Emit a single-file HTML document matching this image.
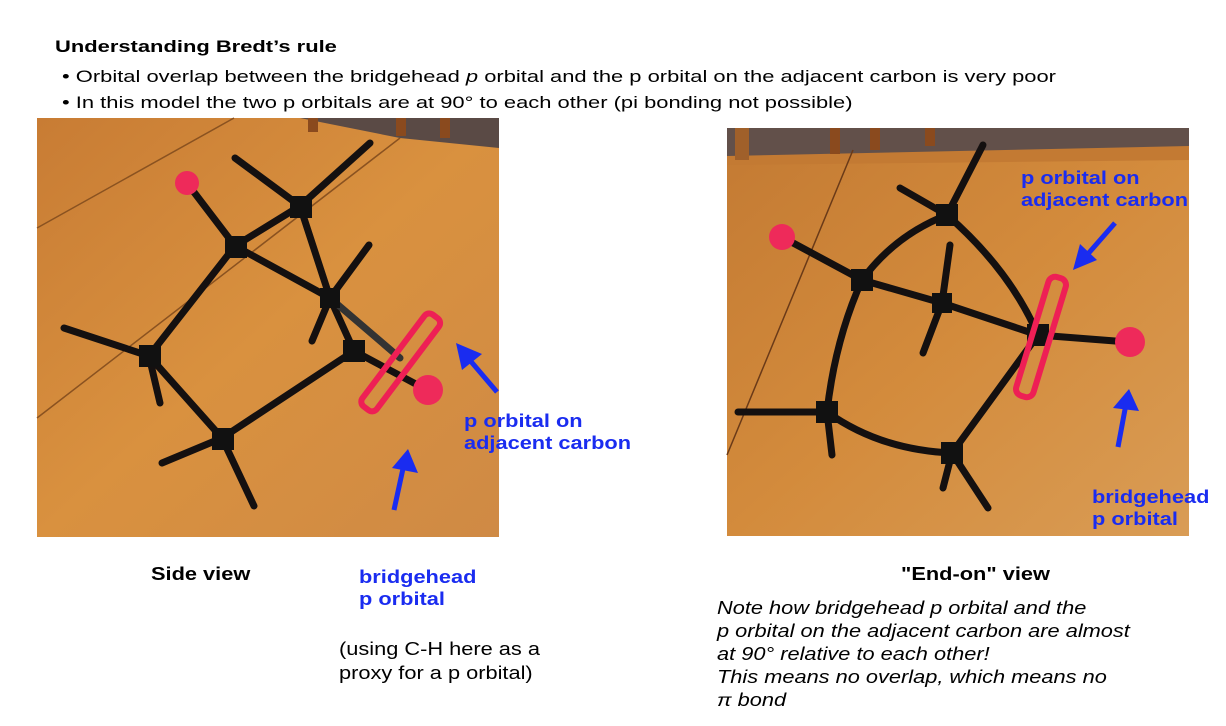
<!DOCTYPE html>
<html><head><meta charset="utf-8"><style>
body{margin:0;width:1226px;height:726px;background:#fff;font-family:"Liberation Sans",Arial,sans-serif;position:relative;overflow:hidden}
.t{position:absolute;white-space:nowrap;color:#000;transform-origin:0 0;transform:scaleX(1.21)}
.h{transform:scaleX(1.29)}
.b{font-weight:bold}
.blue{color:#1a2cf0;font-weight:bold;font-size:18px;line-height:22px}
svg{position:absolute;left:0;top:0}
</style></head><body>
<svg width="1226" height="726">
<defs>
<linearGradient id="w1" x1="0" y1="0" x2="1" y2="1"><stop offset="0" stop-color="#c87c34"/><stop offset="0.5" stop-color="#d9913f"/><stop offset="1" stop-color="#cf8a45"/></linearGradient>
<linearGradient id="w2" x1="0" y1="0" x2="1" y2="1"><stop offset="0" stop-color="#c37a33"/><stop offset="0.5" stop-color="#d38b3c"/><stop offset="1" stop-color="#d99c55"/></linearGradient>
</defs>
<rect x="37" y="118" width="462" height="419" fill="url(#w1)"/>
<polygon points="300,118 499,118 499,148 400,138" fill="#5a4a45"/>
<rect x="308" y="118" width="10" height="14" fill="#8a4a1e"/><rect x="396" y="118" width="10" height="18" fill="#8a4a1e"/><rect x="440" y="118" width="10" height="20" fill="#8a4a1e"/>
<line x1="37" y1="228" x2="234" y2="118" stroke="#8a5220" stroke-width="1.5"/>
<line x1="37" y1="418" x2="400" y2="138" stroke="#8a5220" stroke-width="1.5"/>
<g stroke="#141010" stroke-width="7" stroke-linecap="round">
<line x1="300" y1="206" x2="235" y2="246"/><line x1="300" y1="206" x2="330" y2="298"/><line x1="235" y1="246" x2="330" y2="298"/>
<line x1="235" y1="246" x2="149" y2="356"/><line x1="149" y1="356" x2="222" y2="438"/><line x1="222" y1="438" x2="354" y2="351"/>
<line x1="354" y1="351" x2="330" y2="298"/><line x1="235" y1="246" x2="187" y2="183"/>
<line x1="300" y1="206" x2="370" y2="143"/><line x1="300" y1="206" x2="235" y2="158"/>
<line x1="330" y1="298" x2="369" y2="245"/><line x1="330" y1="298" x2="312" y2="341"/>
<line x1="149" y1="356" x2="64" y2="328"/><line x1="149" y1="356" x2="160" y2="403"/>
<line x1="222" y1="438" x2="162" y2="463"/><line x1="222" y1="438" x2="254" y2="506"/>
<line x1="354" y1="351" x2="427" y2="390"/><line x1="330" y1="298" x2="400" y2="358" stroke="#333"/>
</g>
<g fill="#111"><rect x="290" y="196" width="22" height="22"/><rect x="225" y="236" width="22" height="22"/><rect x="320" y="288" width="20" height="20"/><rect x="343" y="340" width="22" height="22"/><rect x="139" y="345" width="22" height="22"/><rect x="212" y="428" width="22" height="22"/></g>
<rect x="392" y="305" width="18" height="115" rx="6" fill="none" stroke="#ee1f55" stroke-width="6" transform="rotate(37 401 362)"/>
<circle cx="187" cy="183" r="12" fill="#ee2a5a"/><circle cx="428" cy="390" r="15" fill="#ee2a5a"/>
<rect x="727" y="128" width="462" height="408" fill="url(#w2)"/>
<rect x="727" y="128" width="462" height="28" fill="#62504a"/>
<polygon points="727,156 1189,146 1189,160 727,165" fill="#c37a33"/>
<rect x="735" y="128" width="14" height="32" fill="#a0602a"/><rect x="830" y="128" width="10" height="26" fill="#8a4a1e"/><rect x="870" y="128" width="10" height="22" fill="#8a4a1e"/><rect x="925" y="128" width="10" height="18" fill="#8a4a1e"/>
<line x1="853" y1="150" x2="727" y2="455" stroke="#6a3a18" stroke-width="1.5"/>
<g stroke="#141010" stroke-width="7" stroke-linecap="round">
<path d="M947 215 Q895 235 862 280" fill="none"/><path d="M947 215 Q1010 270 1038 335" fill="none"/>
<line x1="862" y1="280" x2="942" y2="303"/><line x1="942" y1="303" x2="1038" y2="335"/>
<path d="M862 280 Q835 340 827 412" fill="none"/><path d="M827 412 Q880 450 952 453" fill="none"/><line x1="952" y1="453" x2="1038" y2="335"/>
<line x1="862" y1="280" x2="782" y2="237"/><line x1="1038" y1="335" x2="1128" y2="342"/>
<line x1="947" y1="215" x2="983" y2="145"/><line x1="947" y1="215" x2="900" y2="188"/>
<line x1="942" y1="303" x2="950" y2="245"/><line x1="942" y1="303" x2="923" y2="353"/>
<line x1="827" y1="412" x2="738" y2="412"/><line x1="827" y1="412" x2="832" y2="455"/>
<line x1="952" y1="453" x2="943" y2="488"/><line x1="952" y1="453" x2="988" y2="508"/>
</g>
<g fill="#111"><rect x="936" y="204" width="22" height="22"/><rect x="851" y="269" width="22" height="22"/><rect x="932" y="293" width="20" height="20"/><rect x="1027" y="324" width="22" height="22"/><rect x="816" y="401" width="22" height="22"/><rect x="941" y="442" width="22" height="22"/></g>
<rect x="1032" y="275" width="18" height="124" rx="7" fill="none" stroke="#ee1f55" stroke-width="6" transform="rotate(17 1041 337)"/>
<circle cx="782" cy="237" r="13" fill="#ee2a5a"/><circle cx="1130" cy="342" r="15" fill="#ee2a5a"/>
<g stroke="#1a2cf0" stroke-width="5" fill="#1a2cf0">
<line x1="497" y1="392" x2="468" y2="358"/><polygon points="456,343 482,354 462,370" stroke="none"/>
<line x1="394" y1="510" x2="404" y2="464"/><polygon points="408,449 418,473 392,468" stroke="none"/>
<line x1="1115" y1="223" x2="1087" y2="255"/><polygon points="1073,270 1080,244 1097,260" stroke="none"/>
<line x1="1118" y1="447" x2="1126" y2="404"/><polygon points="1129,389 1139,411 1113,408" stroke="none"/>
</g>
</svg>
<div class="t h b" style="left:55px;top:37px;font-size:17px">Understanding Bredt’s rule</div>
<div class="t h" style="left:62px;top:67px;font-size:17px">• Orbital overlap between the bridgehead <i>p</i> orbital and the p orbital on the adjacent carbon is very poor</div>
<div class="t h" style="left:62px;top:93px;font-size:17px">• In this model the two p orbitals are at 90° to each other (pi bonding not possible)</div>
<div class="t blue" style="left:464px;top:410px">p orbital on<br>adjacent carbon</div>
<div class="t blue" style="left:1021px;top:167px">p orbital on<br>adjacent carbon</div>
<div class="t blue" style="left:1092px;top:486px">bridgehead<br>p orbital</div>
<div class="t blue" style="left:359px;top:566px">bridgehead<br>p orbital</div>
<div class="t b" style="left:151px;top:564px;font-size:18px">Side view</div>
<div class="t b" style="left:901px;top:564px;font-size:18px">"End-on" view</div>
<div class="t" style="left:339px;top:637px;font-size:18px;line-height:24px">(using C-H here as a<br>proxy for a p orbital)</div>
<div class="t" style="left:717px;top:597px;font-size:18px;line-height:23px;font-style:italic">Note how bridgehead p orbital and the<br>p orbital on the adjacent carbon are almost<br>at 90° relative to each other!<br>This means no overlap, which means no<br>π bond</div>
</body></html>
